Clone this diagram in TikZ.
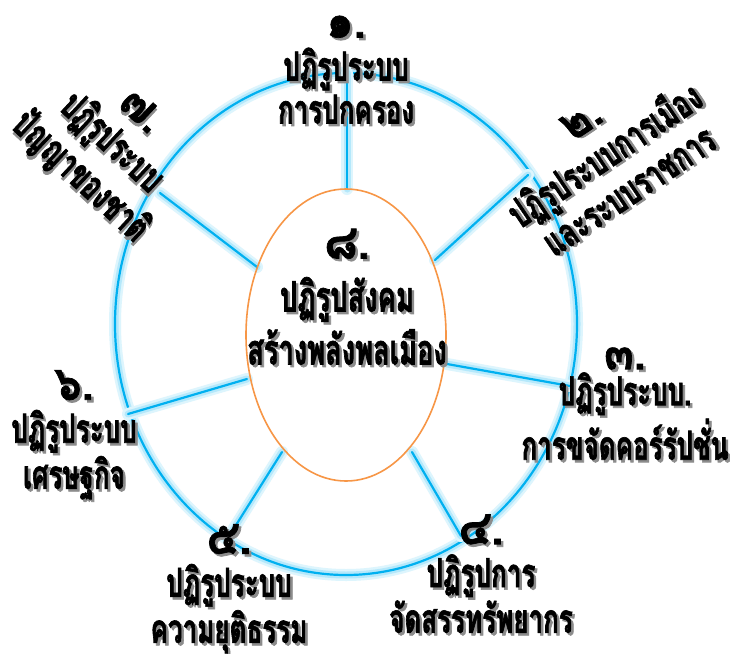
\documentclass[tikz,border=0pt]{standalone}
\usepackage{fontspec}
\usetikzlibrary{shapes.geometric}
\newfontfamily\thai[Script=Thai, FakeStretch=0.65, BoldFeatures={FakeBold=1.6}]{Loma}
\newfontfamily\thaidg[Script=Thai, FakeStretch=0.9, BoldFeatures={FakeBold=1.5}]{Loma}
\definecolor{ringc}{HTML}{00B0F0}
\definecolor{glowc}{HTML}{B4E8FB}
\definecolor{orangec}{HTML}{F79646}
\newcommand\shd[1]{\makebox[0pt][l]{\hspace{2.5pt}\raisebox{-2.5pt}{\textcolor{black!45}{#1}}}#1}
\newcommand\dg[1]{{\thaidg\bfseries\fontsize{48}{43}\selectfont\shd{#1}}}
\begin{document}
\begin{tikzpicture}[x=1pt,y=-1pt,
  glowwide/.style={draw=glowc!45, line width=12pt, line cap=round},
  glowline/.style={draw=glowc, line width=7pt, line cap=round},
  coreline/.style={draw=ringc, line width=2.2pt, line cap=round},
  lbl/.style={align=center, font=\thai\bfseries\fontsize{40}{43}\selectfont, inner sep=0pt},
  smlbl/.style={align=center, font=\thai\bfseries\fontsize{40}{36}\selectfont, inner sep=0pt},
  biglbl/.style={align=center, font=\thai\bfseries\fontsize{42}{53}\selectfont, inner sep=0pt}]
\useasboundingbox (0,0) rectangle (730,653);
\fill[white] (0,0) rectangle (730,653);
% outer ring
\node[ellipse, minimum width=462pt, minimum height=502pt, inner sep=0pt,
      preaction={draw=glowc!45, line width=12pt},
      preaction={draw=glowc, line width=7pt}, draw=ringc, line width=2.2pt] (outer) at (346,324) {};
% spoke coordinates
\coordinate (i1) at (347,189); \coordinate (o1) at (347,73);
\coordinate (i2) at (435,260); \coordinate (o2) at (528,175);
\coordinate (i3) at (447,364); \coordinate (o3) at (570,386);
\coordinate (i4) at (412,452); \coordinate (o4) at (461,536);
\coordinate (i5) at (282,452); \coordinate (o5) at (231,533);
\coordinate (i6) at (247,379); \coordinate (o6) at (128,414);
\coordinate (i7) at (257,267); \coordinate (o7) at (160,193);
\foreach \k in {1,...,7}{\draw[glowwide] (i\k) -- (o\k);}
\foreach \k in {1,...,7}{\draw[glowline] (i\k) -- (o\k);}
\foreach \k in {1,...,7}{\draw[coreline] (i\k) -- (o\k);}
% inner ellipse
\node[ellipse, minimum width=200pt, minimum height=292pt, inner sep=0pt,
      draw=orangec, line width=1.6pt] (inner) at (346,335) {};
% labels
\node[lbl] (t1) at (346,71) {\dg{๑.}\\\shd{ปฏิรูประบบ}\\\shd{การปกครอง}};
\node[lbl, rotate=34] (t2) at (606,157) {\dg{๒.}\\\shd{ปฏิรูประบบการเมือง}\\\shd{และระบบราชการ}};
\node[smlbl] (t3) at (625,405) {\dg{๓.}\\\shd{ปฏิรูประบบ.}\\\shd{การขจัดคอร์รัปชั่น}};
\node[lbl] (t4) at (481,575) {\dg{๔.}\\\shd{ปฏิรูปการ}\\\shd{จัดสรรทรัพยากร}};
\node[lbl] (t5) at (229,590) {\dg{๕.}\\\shd{ปฏิรูประบบ}\\\shd{ความยุติธรรม}};
\node[lbl] (t6) at (74,436) {\dg{๖.}\\\shd{ปฏิรูประบบ}\\\shd{เศรษฐกิจ}};
\node[lbl, rotate=-43] (t7) at (108,147) {\dg{๗.}\\\shd{ปฏิรูประบบ}\\\shd{ปัญญาของชาติ}};
\node[biglbl] (t8) at (347,298) {\dg{๘.}\\\shd{ปฏิรูปสังคม}\\\shd{สร้างพลังพลเมือง}};
\end{tikzpicture}
\end{document}
